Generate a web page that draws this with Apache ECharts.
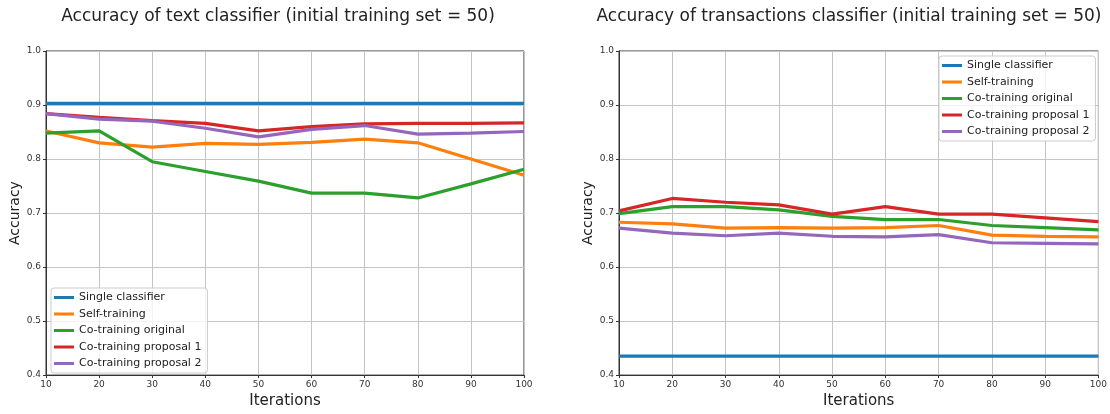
<!DOCTYPE html>
<html><head><meta charset="utf-8">
<script src="https://cdn.jsdelivr.net/npm/echarts@6/dist/echarts.min.js"></script>
<style>html,body{margin:0;padding:0;background:#fff}#c{width:1110px;height:414px}</style>
</head><body><div id="c"></div>
<script>
const iterations = [10,20,30,40,50,60,70,80,90,100];
const seriesNames = ['Single classifier','Self-training','Co-training original','Co-training proposal 1','Co-training proposal 2'];
const colors = ['#1f77b4','#ff7f0e','#2ca02c','#d62728','#9467bd'];

const textSingle    = [0.903,0.903,0.903,0.903,0.903,0.903,0.903,0.903,0.903,0.903];
const textSelf      = [0.852,0.830,0.822,0.829,0.827,0.831,0.837,0.830,0.800,0.770];
const textCoOrig    = [0.848,0.852,0.795,0.777,0.759,0.737,0.737,0.728,0.754,0.781];
const textCoProp1   = [0.884,0.877,0.871,0.866,0.852,0.860,0.865,0.866,0.866,0.867];
const textCoProp2   = [0.884,0.874,0.870,0.857,0.841,0.855,0.862,0.846,0.848,0.851];

const transSingle   = [0.435,0.435,0.435,0.435,0.435,0.435,0.435,0.435,0.435,0.435];
const transSelf     = [0.683,0.680,0.672,0.673,0.672,0.673,0.677,0.659,0.657,0.656];
const transCoOrig   = [0.699,0.712,0.712,0.706,0.694,0.688,0.688,0.677,0.673,0.669];
const transCoProp1  = [0.704,0.727,0.720,0.715,0.698,0.712,0.698,0.698,0.691,0.684];
const transCoProp2  = [0.672,0.663,0.658,0.663,0.657,0.656,0.660,0.645,0.644,0.643];

const titles = ['Accuracy of text classifier (initial training set = 50)','Accuracy of transactions classifier (initial training set = 50)'];
const yTicks = [0.4,0.5,0.6,0.7,0.8,0.9,1.0];

const FONT = 'DejaVu Sans';
const dataSets = [[textSingle,textSelf,textCoOrig,textCoProp1,textCoProp2],[transSingle,transSelf,transCoOrig,transCoProp1,transCoProp2]];
const grids = [
  {left:46, top:51, width:478, height:327},
  {left:619, top:51, width:480, height:327}
];
function mkX(i){return {gridIndex:i,type:'value',min:10,max:100,interval:10,
  name:'Iterations',nameLocation:'middle',nameGap:18,nameTextStyle:{fontFamily:FONT,fontSize:15,color:'#222'},
  axisLine:{show:true,lineStyle:{color:'#333',width:1}},axisTick:{show:true,length:3,lineStyle:{color:'#333'}},
  axisLabel:{fontFamily:FONT,fontSize:9,color:'#333',margin:5},
  splitLine:{show:true,lineStyle:{color:'#c4c4c4',width:1}}};}
function mkY(i){return {gridIndex:i,type:'value',min:yTicks[0],max:yTicks[yTicks.length-1],interval:0.1,
  name:'Accuracy',nameLocation:'middle',nameGap:23,nameTextStyle:{fontFamily:FONT,fontSize:14,color:'#222'},
  axisLine:{show:true,lineStyle:{color:'#333',width:1}},axisTick:{show:true,length:3,lineStyle:{color:'#333'}},
  axisLabel:{fontFamily:FONT,fontSize:9,color:'#333',margin:5,formatter:v=>v.toFixed(1)},
  splitLine:{show:true,lineStyle:{color:'#c4c4c4',width:1}}};}
const series=[];
dataSets.forEach((ds,g)=>{ds.forEach((arr,k)=>{series.push({name:seriesNames[k],type:'line',xAxisIndex:g,yAxisIndex:g,
  data:iterations.map((x,j)=>[x,arr[j]]),showSymbol:false,symbol:'none',lineStyle:{width:3.2,color:colors[k]},itemStyle:{color:colors[k]},
  z:2+k,animation:false,emphasis:{disabled:true}});});});
const legendCommon={orient:'vertical',icon:'rect',itemWidth:20,itemHeight:3,itemGap:5.5,
  textStyle:{fontFamily:FONT,fontSize:11,color:'#222'},backgroundColor:'rgba(255,255,255,0.8)',
  borderColor:'#ccc',borderWidth:1,borderRadius:3,padding:[4,6,4,3],data:seriesNames,selectedMode:false};
const chart=echarts.init(document.getElementById('c'),null,{renderer:'canvas'});
chart.setOption({
  animation:false,
  color:colors,
  title:[
    {text:titles[0],left:273,top:3,textAlign:'center',textStyle:{fontFamily:FONT,fontSize:17,fontWeight:'normal',color:'#222'}},
    {text:titles[1],left:844,top:3,textAlign:'center',textStyle:{fontFamily:FONT,fontSize:17,fontWeight:'normal',color:'#222'}}
  ],
  grid:grids.map(g=>Object.assign({show:true,borderColor:'#333',borderWidth:1,backgroundColor:'transparent'},g)),
  xAxis:[mkX(0),mkX(1)],
  yAxis:[mkY(0),mkY(1)],
  legend:[Object.assign({left:51,top:288},legendCommon),Object.assign({left:939,top:56},legendCommon)],
  series:series
});
</script></body></html>
